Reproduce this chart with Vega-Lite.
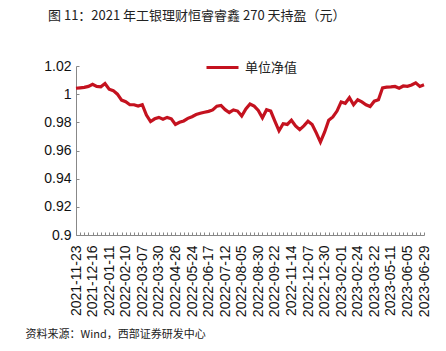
{
  "$schema": "https://vega.github.io/schema/vega-lite/v6.json",
  "width": 348,
  "height": 169,
  "autosize": {"type": "none"},
  "padding": {"left": 76, "top": 66, "right": 22, "bottom": 116},
  "background": "white",
  "config": {"view": {"stroke": null}, "font": "Liberation Sans"},
  "title": {
    "text": "图 11：2021 年工银理财恒睿睿鑫 270 天持盈（元）",
    "anchor": "start",
    "frame": "group",
    "dx": -28,
    "dy": 3,
    "offset": 30,
    "fontSize": 13,
    "fontWeight": "normal",
    "font": "Noto Sans CJK SC",
    "color": "#222222"
  },
  "data": {
    "values": [
      {"date": "2021-11-23", "value": 1.0042},
      {"date": "2021-11-29", "value": 1.0045},
      {"date": "2021-12-03", "value": 1.0048},
      {"date": "2021-12-10", "value": 1.0055},
      {"date": "2021-12-16", "value": 1.0070},
      {"date": "2021-12-22", "value": 1.0055},
      {"date": "2021-12-28", "value": 1.0052},
      {"date": "2022-01-05", "value": 1.0075},
      {"date": "2022-01-11", "value": 1.0035},
      {"date": "2022-01-18", "value": 1.0025},
      {"date": "2022-01-25", "value": 1.0000},
      {"date": "2022-02-07", "value": 0.9958},
      {"date": "2022-02-10", "value": 0.9947},
      {"date": "2022-02-16", "value": 0.9925},
      {"date": "2022-02-22", "value": 0.9925},
      {"date": "2022-03-01", "value": 0.9915},
      {"date": "2022-03-07", "value": 0.9925},
      {"date": "2022-03-14", "value": 0.9852},
      {"date": "2022-03-18", "value": 0.9806},
      {"date": "2022-03-24", "value": 0.9825},
      {"date": "2022-03-30", "value": 0.9835},
      {"date": "2022-04-07", "value": 0.9822},
      {"date": "2022-04-13", "value": 0.9835},
      {"date": "2022-04-20", "value": 0.9825},
      {"date": "2022-04-26", "value": 0.9785},
      {"date": "2022-05-05", "value": 0.9800},
      {"date": "2022-05-11", "value": 0.9810},
      {"date": "2022-05-17", "value": 0.9828},
      {"date": "2022-05-24", "value": 0.9840},
      {"date": "2022-05-30", "value": 0.9855},
      {"date": "2022-06-06", "value": 0.9865},
      {"date": "2022-06-10", "value": 0.9872},
      {"date": "2022-06-17", "value": 0.9878},
      {"date": "2022-06-23", "value": 0.9888},
      {"date": "2022-06-29", "value": 0.9915},
      {"date": "2022-07-06", "value": 0.9920},
      {"date": "2022-07-12", "value": 0.9890},
      {"date": "2022-07-18", "value": 0.9870},
      {"date": "2022-07-25", "value": 0.9888},
      {"date": "2022-07-29", "value": 0.9880},
      {"date": "2022-08-05", "value": 0.9845},
      {"date": "2022-08-11", "value": 0.9895},
      {"date": "2022-08-17", "value": 0.9930},
      {"date": "2022-08-23", "value": 0.9915},
      {"date": "2022-08-30", "value": 0.9885},
      {"date": "2022-09-05", "value": 0.9832},
      {"date": "2022-09-09", "value": 0.9890},
      {"date": "2022-09-16", "value": 0.9880},
      {"date": "2022-09-22", "value": 0.9808},
      {"date": "2022-09-29", "value": 0.9740},
      {"date": "2022-10-17", "value": 0.9790},
      {"date": "2022-10-31", "value": 0.9785},
      {"date": "2022-11-14", "value": 0.9815},
      {"date": "2022-11-18", "value": 0.9775},
      {"date": "2022-11-24", "value": 0.9748},
      {"date": "2022-11-30", "value": 0.9775},
      {"date": "2022-12-07", "value": 0.9808},
      {"date": "2022-12-13", "value": 0.9785},
      {"date": "2022-12-19", "value": 0.9725},
      {"date": "2022-12-23", "value": 0.9660},
      {"date": "2022-12-30", "value": 0.9730},
      {"date": "2023-01-09", "value": 0.9815},
      {"date": "2023-01-17", "value": 0.9838},
      {"date": "2023-01-20", "value": 0.9880},
      {"date": "2023-02-01", "value": 0.9945},
      {"date": "2023-02-07", "value": 0.9935},
      {"date": "2023-02-13", "value": 0.9975},
      {"date": "2023-02-17", "value": 0.9925},
      {"date": "2023-02-24", "value": 0.9960},
      {"date": "2023-03-02", "value": 0.9945},
      {"date": "2023-03-08", "value": 0.9925},
      {"date": "2023-03-15", "value": 0.9912},
      {"date": "2023-03-22", "value": 0.9950},
      {"date": "2023-04-04", "value": 0.9960},
      {"date": "2023-04-17", "value": 1.0045},
      {"date": "2023-04-27", "value": 1.0050},
      {"date": "2023-05-11", "value": 1.0052},
      {"date": "2023-05-17", "value": 1.0055},
      {"date": "2023-05-24", "value": 1.0042},
      {"date": "2023-05-30", "value": 1.0058},
      {"date": "2023-06-05", "value": 1.0056},
      {"date": "2023-06-12", "value": 1.0065},
      {"date": "2023-06-19", "value": 1.0080},
      {"date": "2023-06-25", "value": 1.0055},
      {"date": "2023-06-29", "value": 1.0066}
    ]
  },
  "mark": {"type": "line", "strokeWidth": 3.2, "interpolate": "linear"},
  "encoding": {
    "x": {
      "field": "date",
      "type": "ordinal",
      "sort": null,
      "scale": {"type": "point", "padding": 0},
      "axis": {
        "title": "资料来源：Wind，西部证券研发中心",
        "titleFont": "Noto Sans CJK SC",
        "titleFontSize": 11,
        "titleFontWeight": "normal",
        "titleColor": "#222222",
        "titleAnchor": "start",
        "titleAlign": "left",
        "titleBaseline": "middle",
        "titleX": -51,
        "titleY": 99,
        "labelExpr": "indexof(domain('x'), datum.value) % 4 == 0 ? datum.value : ''",
        "labelAngle": -90,
        "labelAlign": "right",
        "labelBaseline": "middle",
        "labelFontSize": 14,
        "labelColor": "#111111",
        "labelOverlap": false,
        "labelBound": false,
        "labelPadding": 13,
        "tickSize": -3,
        "tickColor": "#888888",
        "domainColor": "#888888",
        "grid": false
      }
    },
    "y": {
      "field": "value",
      "type": "quantitative",
      "scale": {"domain": [0.9, 1.02], "zero": false, "nice": false},
      "axis": {
        "title": null,
        "values": [0.9, 0.92, 0.94, 0.96, 0.98, 1, 1.02],
        "format": ".2~f",
        "labelFontSize": 14,
        "labelColor": "#111111",
        "labelPadding": 8,
        "tickSize": -3,
        "tickColor": "#888888",
        "domainColor": "#888888",
        "grid": false
      }
    },
    "color": {
      "datum": "单位净值",
      "type": "nominal",
      "scale": {"range": ["#C4121F"]},
      "legend": {
        "title": null,
        "orient": "none",
        "legendX": 129,
        "legendY": -16,
        "symbolType": "stroke",
        "symbolSize": 1024,
        "symbolStrokeWidth": 3,
        "labelFont": "Noto Sans CJK SC",
        "labelFontSize": 13,
        "labelColor": "#222222",
        "labelOffset": 5
      }
    }
  }
}
